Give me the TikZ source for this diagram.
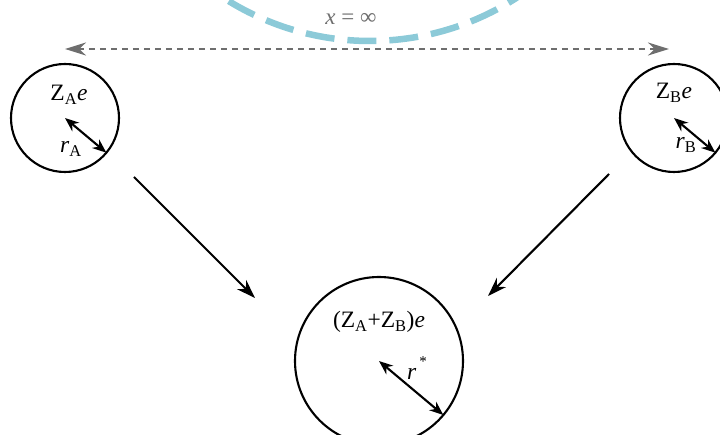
\documentclass[tikz,border=0pt]{standalone}
\usepackage{fontspec}
\setmainfont{Liberation Serif}
\usetikzlibrary{arrows.meta}
\definecolor{arcblue}{RGB}{140,202,216}
\definecolor{sepgray}{RGB}{110,110,110}

\begin{document}
\begin{tikzpicture}[x=1pt,y=1pt]
    \tikzset{
      atom/.style={circle, draw=black, line width=2.1pt, inner sep=0pt, outer sep=0pt},
      radius/.style={{Stealth[length=14pt,width=11pt]}-{Stealth[length=14pt,width=11pt]}, line width=2.1pt},
      flow/.style={-{Stealth[length=19pt,width=13pt]}, line width=2.1pt},
      lbl/.style={font=\fontsize{23.5}{27}\selectfont, inner sep=0pt}
    }
    \useasboundingbox (0,0) rectangle (720,434);
    \clip (0,0) rectangle (720,434);

    % Sonsuz uzaklik: kesikli yay ve ayrim oku
    \draw[line width=6.5pt, color=arcblue, dash pattern=on 29pt off 13pt, dash phase=21pt] (370,663) ++(234:270) arc (234:306:270);
    \node[lbl, text=sepgray, font=\fontsize{23}{26}\selectfont] (xinf) at (351,415) {\textit{x} = ∞};
    \coordinate (sepL) at (65,385);
    \coordinate (sepR) at (669,385);
    \draw[{Stealth[length=21pt,width=13pt]}-{Stealth[length=21pt,width=13pt]}, line width=2.6pt, color=sepgray, dash pattern=on 6pt off 5pt] (sepL) -- (sepR);

    % A: tek cekirdek
    \node[atom, minimum size=108pt] (A) at (65,316) {};
    \node[lbl] (zA) at (69,339) {Z\textsubscript{A}\textit{e}};
    \draw[radius] (A.center) -- (A.-40);
    \node[lbl] (rA) at (71,285) {\textit{r}\textsubscript{A}};

    % B: tek cekirdek
    \node[atom, minimum size=108pt] (B) at (674,316) {};
    \node[lbl] (zB) at (674,341) {Z\textsubscript{B}\textit{e}};
    \draw[radius] (B.center) -- (B.-40);
    \node[lbl] (rB) at (686,289) {\textit{r}\textsubscript{B}};

    % Birlesik cekirdek
    \node[atom, minimum size=168pt] (M) at (379,73) {};
    \node[lbl] (zM) at (379,112) {(Z\textsubscript{A}+Z\textsubscript{B})\textit{e}};
    \draw[radius] (M.center) -- (M.-40);
    \node[lbl, anchor=base west] (rM) at (407,55) {\textit{r}\hspace{3pt}\raisebox{13pt}{\fontsize{15}{15}\selectfont *}};

    % birlesme oklari
    \coordinate (fromA) at (134,257);
    \coordinate (toA) at (255,136);
    \coordinate (fromB) at (609,260);
    \coordinate (toB) at (488,138);
    \draw[flow] (fromA) -- (toA);
    \draw[flow] (fromB) -- (toB);
  \end{tikzpicture}
\end{document}
